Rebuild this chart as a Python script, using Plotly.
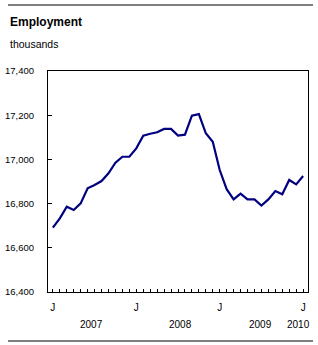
import plotly.graph_objects as go

# Monthly employment, Jan 2007 - Jan 2010 (thousands)
months = list(range(37))
employment = [
    16691, 16733, 16786, 16771, 16801, 16869, 16884, 16902, 16937, 16985, 17012, 17012,
    17050, 17107, 17116, 17123, 17138, 17138, 17108, 17112, 17198, 17205, 17118, 17080,
    16952, 16865, 16819, 16845, 16819, 16819, 16791, 16819, 16857, 16842, 16907, 16887,
    16925,
]
x_tick_vals = [0, 12, 24, 36]
x_tick_text = ["J", "J", "J", "J"]
year_labels = ["2007", "2008", "2009", "2010"]
year_pos = [5.6, 18.3, 29.8, 35.4]
y_ticks = [16400, 16600, 16800, 17000, 17200, 17400]

FONT = "Arial, Liberation Sans, sans-serif"

fig = go.Figure()
fig.add_trace(go.Scatter(
    x=months, y=employment, mode="lines",
    line=dict(color="#000080", width=2.2),
    hoverinfo="skip", showlegend=False,
))

fig.update_layout(
    width=318, height=345,
    margin=dict(l=48, r=10, t=71, b=53, pad=0, autoexpand=False),
    paper_bgcolor="white", plot_bgcolor="white",
    font=dict(family=FONT, size=9, color="black"),
    xaxis=dict(
        range=[-0.7, 36.7], tickvals=x_tick_vals, ticktext=x_tick_text,
        ticks="inside", ticklen=3, tickcolor="black", tickwidth=1,
        minor=dict(dtick=1, tick0=0, ticks="inside", ticklen=3, tickcolor="black"),
        showgrid=False, zeroline=False, showline=True, linecolor="black",
        linewidth=1, mirror=True, tickfont=dict(size=10), ticklabelstandoff=6,
        automargin=False,
    ),
    yaxis=dict(
        range=[16400, 17400], tickvals=y_ticks,
        ticktext=[f"{v:,}" for v in y_ticks],
        ticks="inside", ticklen=4, tickcolor="black",
        showgrid=False, zeroline=False, showline=True, linecolor="black",
        linewidth=1, mirror=True, tickfont=dict(size=9.5), ticklabelstandoff=11,
        automargin=False,
    ),
)

annotations = [
    dict(text="<b>Employment</b>", xref="paper", yref="paper", x=-0.1538, y=1.2217,
         xanchor="left", yanchor="middle", showarrow=False, font=dict(size=12)),
    dict(text="thousands", xref="paper", yref="paper", x=-0.1538, y=1.1222,
         xanchor="left", yanchor="middle", showarrow=False, font=dict(size=10.5)),
]
for lab, pos in zip(year_labels, year_pos):
    annotations.append(dict(text=lab, xref="x", yref="paper", x=pos, y=-0.149,
                            xanchor="center", yanchor="middle", showarrow=False,
                            font=dict(size=10)))
fig.update_layout(annotations=annotations)

fig.add_shape(type="line", xref="paper", yref="paper", x0=-0.1538, x1=1.0192,
              y0=1.2986, y1=1.2986, line=dict(color="black", width=1.2))
fig.add_shape(type="line", xref="paper", yref="paper", x0=-0.1538, x1=1.0192,
              y0=-0.2217, y1=-0.2217, line=dict(color="black", width=1.2))

fig.write_html("out.html")
